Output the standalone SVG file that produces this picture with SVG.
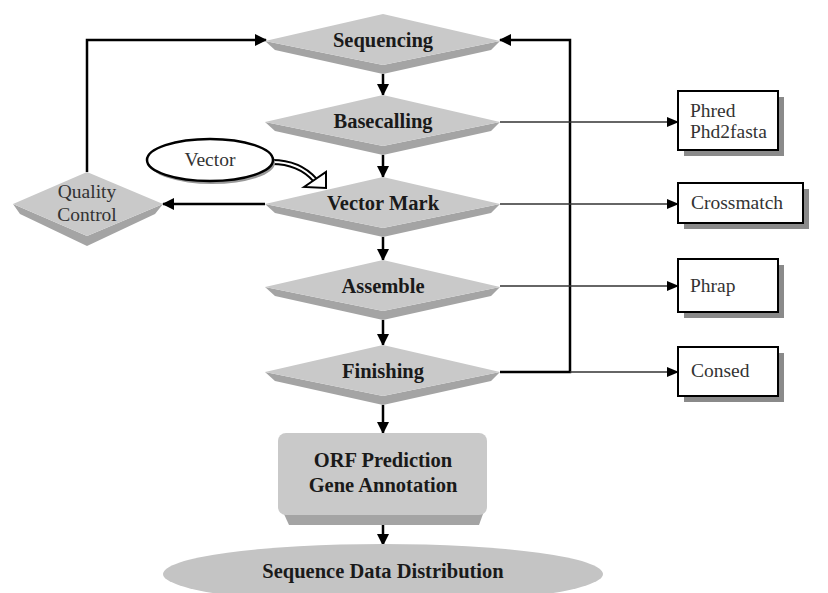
<svg xmlns="http://www.w3.org/2000/svg" xmlns:xlink="http://www.w3.org/1999/xlink" width="828" height="593" viewBox="0 0 828 593">
<style>
.face{fill:#c9c9c9}
.bevel{fill:#a4a4a4}
.bt{font-family:"Liberation Serif",serif;font-weight:bold;font-size:20.5px;fill:#1a1a1a;text-anchor:middle}
.rt{font-family:"Liberation Serif",serif;font-size:19.5px;fill:#333}
.main{stroke:#000;stroke-width:2.5;fill:none}
.thin{stroke:#333;stroke-width:1.5;fill:none}
.box{fill:#fff;stroke:#000;stroke-width:2}
.shadow{fill:#8a8a8a}
</style>
<defs>
<marker id="ah" markerWidth="12" markerHeight="12" refX="11" refY="6" orient="auto" markerUnits="userSpaceOnUse">
<path d="M0,0 L12,6 L0,12 Z" fill="#000"/>
</marker>
<marker id="ahs" markerWidth="12" markerHeight="10" refX="11" refY="5" orient="auto" markerUnits="userSpaceOnUse">
<path d="M0,0 L12,5 L0,10 Z" fill="#000"/>
</marker>
<g id="dia">
<polygon class="bevel" points="-118,0 0,24 117,0 108,9 0,33 -108,9"/>
<polygon class="face" points="-118,0 0,-27 117,0 0,24"/>
</g>
</defs>

<g id="connectors">
<line class="main" x1="383" y1="74" x2="383" y2="95" marker-end="url(#ah)"/>
<line class="main" x1="383" y1="155" x2="383" y2="177" marker-end="url(#ah)"/>
<line class="main" x1="383" y1="237" x2="383" y2="260" marker-end="url(#ah)"/>
<line class="main" x1="383" y1="320" x2="383" y2="345" marker-end="url(#ah)"/>
<line class="main" x1="383" y1="405" x2="383" y2="433" marker-end="url(#ah)"/>
<line class="main" x1="383" y1="525" x2="383" y2="545" marker-end="url(#ah)"/>
<path class="main" d="M87,172 V40 H266" marker-end="url(#ah)"/>
<path class="main" d="M500,372 H570 V40 H500" marker-end="url(#ah)"/>
<line class="main" x1="265" y1="204" x2="163" y2="204" marker-end="url(#ah)"/>
<line class="thin" x1="500" y1="122" x2="678" y2="122" marker-end="url(#ahs)"/>
<line class="thin" x1="500" y1="204" x2="678" y2="204" marker-end="url(#ahs)"/>
<line class="thin" x1="500" y1="286" x2="678" y2="286" marker-end="url(#ahs)"/>
<line class="thin" x1="570" y1="372" x2="678" y2="372" marker-end="url(#ahs)"/>
<path d="M272,162 Q299,162 315,180" stroke="#000" stroke-width="6" fill="none"/>
<path d="M272,162 Q299,162 315,180" stroke="#fff" stroke-width="2" fill="none"/>
<polygon points="304,187 326,172 326,188" fill="#fff" stroke="#000" stroke-width="2"/>
</g>

<g id="sequencing">
<use xlink:href="#dia" x="383" y="41"/>
<text class="bt" x="383" y="47">Sequencing</text>
</g>
<g id="basecalling">
<use xlink:href="#dia" x="383" y="122"/>
<text class="bt" x="383" y="128">Basecalling</text>
</g>
<g id="vectormark">
<use xlink:href="#dia" x="383" y="204"/>
<text class="bt" x="383" y="210">Vector Mark</text>
</g>
<g id="assemble">
<use xlink:href="#dia" x="383" y="287"/>
<text class="bt" x="383" y="293">Assemble</text>
</g>
<g id="finishing">
<use xlink:href="#dia" x="383" y="372"/>
<text class="bt" x="383" y="378">Finishing</text>
</g>

<g id="quality">
<polygon class="bevel" points="13,204 87,236 163,204 155,214 87,246 20,214"/>
<polygon class="face" points="13,204 87,172 163,204 87,236"/>
<text class="rt" x="87" y="198" text-anchor="middle">Quality</text>
<text class="rt" x="87" y="221" text-anchor="middle">Control</text>
</g>

<g id="vector">
<ellipse cx="212" cy="163" rx="63" ry="21" fill="#999"/>
<ellipse cx="210" cy="160" rx="63" ry="21" fill="#fff" stroke="#000" stroke-width="2.5"/>
<text class="rt" x="210" y="166" text-anchor="middle">Vector</text>
</g>

<g id="phred">
<rect class="shadow" x="684" y="97" width="100" height="59"/>
<rect class="box" x="678" y="91" width="100" height="59"/>
<text class="rt" x="690" y="117">Phred</text>
<text class="rt" x="690" y="138">Phd2fasta</text>
</g>
<g id="crossmatch">
<rect class="shadow" x="684" y="189" width="125" height="40"/>
<rect class="box" x="678" y="183" width="125" height="40"/>
<text class="rt" x="691" y="209">Crossmatch</text>
</g>
<g id="phrap">
<rect class="shadow" x="684" y="265" width="100" height="53"/>
<rect class="box" x="678" y="259" width="100" height="53"/>
<text class="rt" x="690" y="292">Phrap</text>
</g>
<g id="consed">
<rect class="shadow" x="684" y="353" width="100" height="49"/>
<rect class="box" x="678" y="347" width="100" height="49"/>
<text class="rt" x="691" y="377">Consed</text>
</g>

<g id="orf">
<polygon class="bevel" points="279,503 487,503 479,525 289,525"/>
<rect class="face" x="278" y="433" width="209" height="82" rx="8"/>
<text class="bt" x="383" y="467">ORF Prediction</text>
<text class="bt" x="383" y="492">Gene Annotation</text>
</g>

<g id="distribution">
<ellipse cx="383" cy="574" rx="220" ry="30" fill="#c4c4c4"/>
<text class="bt" x="383" y="578">Sequence Data Distribution</text>
</g>
</svg>
